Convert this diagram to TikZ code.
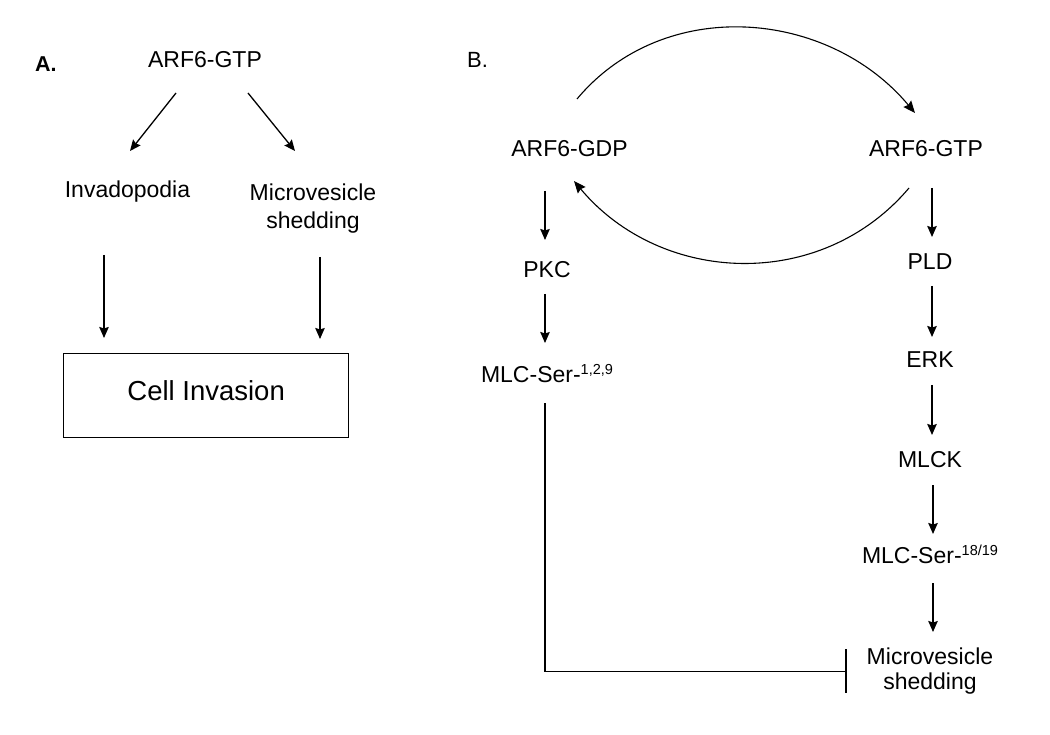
\documentclass[tikz,border=0pt]{standalone}
\usepackage{fontspec}
\setmainfont{Liberation Sans}
\usetikzlibrary{arrows.meta,calc}
\tikzset{
  lbl/.style={inner sep=0pt, font=\fontsize{23}{25}\selectfont, align=center},
  arr/.style={line width=1.3pt, -{Stealth[length=11pt,width=9.5pt,inset=1.5pt]}},
  arc/.style={line width=1.1pt, -{Stealth[length=12pt,width=10pt,inset=1.5pt]}},
  inhib/.style={line width=1.3pt, -{Bar[width=44pt,line width=1.3pt]}},
}
\newcommand{\supr}[1]{\raisebox{8pt}{\fontsize{14.5}{14.5}\selectfont #1}}
\begin{document}
\begin{tikzpicture}[x=1pt,y=-1pt]
\useasboundingbox[fill=white] (0,0) rectangle (1050,735);
% ---------- Panel A ----------
\node[inner sep=0pt, anchor=base west, font=\fontsize{21.5}{21.5}\selectfont\bfseries] (labA) at (35,72) {A.};
\node[lbl, anchor=base] (gtpA) at (205,68) {ARF6-GTP};
\node[lbl, anchor=base] (inv) at (127.5,198) {Invadopodia};
\node[lbl, anchor=north, font=\fontsize{23}{28}\selectfont] (mvA) at (313,184) {Microvesicle\\shedding};
\node[draw, line width=1.3pt, minimum width=285pt, minimum height=84pt, anchor=north west,
      inner sep=0pt, text depth=10pt, font=\fontsize{27.5}{30}\selectfont] (box) at (63,353) {Cell Invasion};
\draw[arr] ($(gtpA.base)+(-29,25)$) -- ($(inv.base)+(2.5,-47)$);
\draw[arr] ($(gtpA.base)+(43,25)$) -- ($(mvA.north)+(-18,-33)$);
\draw[arr] ($(inv.base)+(-23.5,57)$) -- ($(box.north west)+(41,-15)$);
\draw[arr] ($(mvA.north)+(7,73)$) -- ($(box.north west)+(257,-14)$);
% ---------- Panel B ----------
\node[inner sep=0pt, anchor=base west, font=\fontsize{22}{22}\selectfont] (labB) at (467,68) {B.};
\node[lbl, anchor=base] (gdp) at (569.5,157) {ARF6-GDP};
\node[lbl, anchor=base] (gtpB) at (926,157) {ARF6-GTP};
\node[lbl, anchor=base] (pkc) at (547,278) {PKC};
\node[lbl, anchor=base] (mlc1) at (547,382) {MLC-Ser-\supr{1,2,9}};
\node[lbl, anchor=base] (pld) at (930,270) {PLD};
\node[lbl, anchor=base] (erk) at (930,367) {ERK};
\node[lbl, anchor=base] (mlck) at (930,467) {MLCK};
\node[lbl, anchor=base] (mlc2) at (930,563) {MLC-Ser-\supr{18/19}};
\node[lbl, anchor=north] (mvB) at (930,648) {Microvesicle\\shedding};
% cycle arcs
\draw[arc] ($(gdp.base)+(7.5,-58)$) .. controls (664,-5) and (828,9) .. ($(gtpB.base)+(-11,-44)$);
\draw[arc] ($(gtpB.base)+(-17,31)$) .. controls (821,292) and (661,285) .. ($(gdp.base)+(4.5,24)$);
% left column
\draw[arr] ($(gdp.base -| pkc.base)+(-2,34)$) -- ($(pkc.base)+(-2,-38)$);
\draw[arr] ($(pkc.base)+(-2,16)$) -- ($(mlc1.base)+(-2,-39)$);
\draw[inhib] ($(mlc1.base)+(-2,21)$) |- ($(mvB.west)+(-20,0)$);
% right column
\draw[arr] ($(gtpB.base -| pld.base)+(2,31)$) -- ($(pld.base)+(2,-33)$);
\draw[arr] ($(pld.base)+(2,16)$) -- ($(erk.base)+(2,-30)$);
\draw[arr] ($(erk.base)+(2,18)$) -- ($(mlck.base)+(2,-32)$);
\draw[arr] ($(mlck.base)+(3,18)$) -- ($(mlc2.base)+(3,-29)$);
\draw[arr] ($(mlc2.base)+(3,20)$) -- ($(mvB.north)+(3,-16)$);
\end{tikzpicture}
\end{document}
